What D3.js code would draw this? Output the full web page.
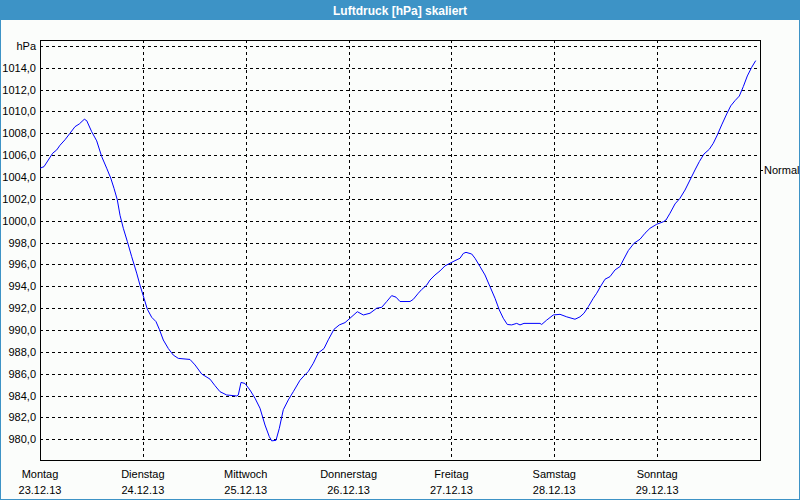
<!DOCTYPE html>
<html><head><meta charset="utf-8">
<script src="https://cdn.jsdelivr.net/npm/d3@7"></script>
<style>body{margin:0;background:#fff;overflow:hidden}svg{display:block}</style>
</head><body><svg id="c" width="800" height="500"></svg>
<script>
const chartTitle = "Luftdruck [hPa] skaliert";
const unitLabel = "hPa";
const dayNames = ["Montag","Dienstag","Mittwoch","Donnerstag","Freitag","Samstag","Sonntag"];
const dayDates = ["23.12.13","24.12.13","25.12.13","26.12.13","27.12.13","28.12.13","29.12.13"];
const yTicks = [980,982,984,986,988,990,992,994,996,998,1000,1002,1004,1006,1008,1010,1012,1014];
const normalLabel = "Normal";
const normalValue = 1004.6;
// hours since Montag 23.12.13 00:00
const hours = [0,0.93,1.94,2.96,3.9,4.67,5.83,7.0,8.17,9.17,10.34,10.9,12.06,13.23,14.4,15.56,16.5,17.27,18.04,18.67,19.44,20.37,21.4,22.56,23.33,24.27,25.04,26.06,27.07,27.84,28.77,29.94,31.1,32.27,35.0,36.17,37.73,39.67,40.83,42.0,43.56,45.9,46.27,46.9,47.83,49.0,50.17,51.33,52.5,53.5,54.06,55.07,55.84,56.77,57.94,59.1,60.67,61.6,62.6,63.77,64.94,66.27,67.27,68.6,69.84,71.17,72.33,74.04,75.44,77.0,78.57,79.73,80.9,82.06,83.07,84.0,86.33,87.1,88.27,89.06,90.23,91.0,92.17,93.33,94.5,95.67,96.83,98.0,98.77,99.4,100.73,101.5,102.67,103.83,105.0,106.17,107.17,108.1,109.04,110.06,111.23,112.0,112.93,116.67,117.06,118.23,119.77,121.33,122.9,124.83,126.0,126.93,127.94,129.1,129.9,130.83,131.83,133.0,134.17,135.33,136.1,137.27,138.6,140.0,141.17,142.33,143.9,145.44,146.07,147.0,148.17,149.33,150.5,151.67,152.83,153.84,154.93,156.17,157.1,158.04,159.06,160.23,161.17,162.17,163.17,164.1,165.04,166.06,167.0];
const pressure = [1004.8,1004.94,1005.55,1006.17,1006.47,1006.9,1007.4,1008.0,1008.6,1008.85,1009.28,1009.15,1008.14,1007.3,1005.86,1004.8,1003.9,1002.96,1001.9,1000.5,999.3,998.1,996.7,995.2,994.1,992.9,991.9,991.16,990.76,990.06,989.08,988.3,987.7,987.4,987.3,986.8,985.97,985.5,984.9,984.35,984.05,983.96,984.05,985.2,985.1,984.5,983.75,982.84,981.3,980.24,979.85,979.9,981.0,982.7,983.6,984.35,985.4,985.8,986.2,986.95,987.9,988.3,989.1,990.06,990.46,990.67,991.07,991.67,991.37,991.53,991.99,992.07,992.6,993.14,993.0,992.6,992.6,992.8,993.36,993.7,994.1,994.57,995.03,995.4,995.86,996.1,996.34,996.56,997.0,997.1,996.95,996.56,995.8,995.03,993.96,992.9,991.83,991.07,990.5,990.46,990.6,990.46,990.6,990.6,990.5,990.9,991.37,991.43,991.2,990.98,991.2,991.53,992.13,992.9,993.36,994.0,994.64,994.88,995.49,995.8,996.4,997.26,997.93,998.3,998.85,999.3,999.67,999.9,1000.06,1000.68,1001.53,1002.05,1002.8,1003.72,1004.64,1005.4,1006.1,1006.53,1007.08,1007.84,1008.76,1009.76,1010.5,1010.98,1011.4,1012.26,1013.24,1014.03,1014.64];

const W = 800, H = 500;
const L = 40, R = 760, T = 40, B = 460;
const blue = "#3d93c6";
const font = "'Liberation Sans', Arial, sans-serif";

const svg = d3.select("#c");
svg.append("rect").attr("width", W).attr("height", H).attr("fill", "#fbfdfb");
// frame
svg.append("rect").attr("x", 0.5).attr("y", 0.5).attr("width", W - 1).attr("height", H - 1)
  .attr("fill", "none").attr("stroke", blue).attr("stroke-width", 1).attr("shape-rendering", "crispEdges");
svg.append("rect").attr("x", 0).attr("y", 0).attr("width", W).attr("height", 20).attr("fill", blue);
svg.append("text").attr("x", W / 2).attr("y", 15).attr("text-anchor", "middle")
  .attr("font-family", font).attr("font-weight", "bold").attr("font-size", 12).attr("fill", "#fff")
  .text(chartTitle);

const x = d3.scaleLinear().domain([0, 168]).range([L, R]);
const y = d3.scaleLinear().domain([978.1, 1016.53]).range([B, T]);

const dayTicks = dayNames.map((d, i) => i * 24);
const gridY = yTicks.concat([1016]);

const grid = svg.append("g").attr("shape-rendering", "crispEdges")
  .attr("stroke", "#000").attr("stroke-dasharray", "3,3").attr("stroke-width", 1);
grid.selectAll("line.h").data(gridY).join("line").attr("class", "h")
  .attr("x1", L).attr("x2", R)
  .attr("y1", d => Math.round(y(d)) + 0.5).attr("y2", d => Math.round(y(d)) + 0.5);
grid.selectAll("line.v").data(dayTicks.slice(1)).join("line").attr("class", "v")
  .attr("y1", T).attr("y2", B)
  .attr("x1", d => Math.round(x(d)) + 0.5).attr("x2", d => Math.round(x(d)) + 0.5);

// box
svg.append("rect").attr("x", L + 0.5).attr("y", T + 0.5).attr("width", R - L).attr("height", B - T)
  .attr("fill", "none").attr("stroke", "#000").attr("shape-rendering", "crispEdges");

// y labels
const yAxis = svg.append("g").attr("font-family", font).attr("font-size", 11).attr("fill", "#000");
yAxis.selectAll("text.t").data(yTicks).join("text").attr("class", "t")
  .attr("x", 36).attr("y", d => Math.round(y(d)) + 4).attr("text-anchor", "end")
  .text(d => d3.format(".1f")(d).replace(".", ","));
yAxis.append("text").attr("x", 36).attr("y", Math.round(y(1016)) + 4).attr("text-anchor", "end").text(unitLabel);

// normal label
svg.append("line").attr("x1", R).attr("x2", R + 3)
  .attr("y1", Math.round(y(normalValue)) + 0.5).attr("y2", Math.round(y(normalValue)) + 0.5)
  .attr("stroke", "#000").attr("shape-rendering", "crispEdges");
svg.append("text").attr("x", R + 4).attr("y", Math.round(y(normalValue)) + 4)
  .attr("font-family", font).attr("font-size", 11).attr("fill", "#000").text(normalLabel);

// x labels
const xl = svg.append("g").attr("font-family", font).attr("font-size", 11).attr("fill", "#000").attr("text-anchor", "middle");
xl.selectAll("text.n").data(dayTicks).join("text").attr("class", "n")
  .attr("x", d => x(d)).attr("y", 478).text((d, i) => dayNames[i]);
xl.selectAll("text.d").data(dayTicks).join("text").attr("class", "d")
  .attr("x", d => x(d)).attr("y", 494).text((d, i) => dayDates[i]);

// line
const pts = hours.map((h, i) => [h, pressure[i]]);
svg.append("path").datum(pts)
  .attr("d", d3.line().x(d => x(d[0])).y(d => y(d[1])))
  .attr("fill", "none").attr("stroke", "#0000ff").attr("stroke-width", 1);
</script></body></html>
